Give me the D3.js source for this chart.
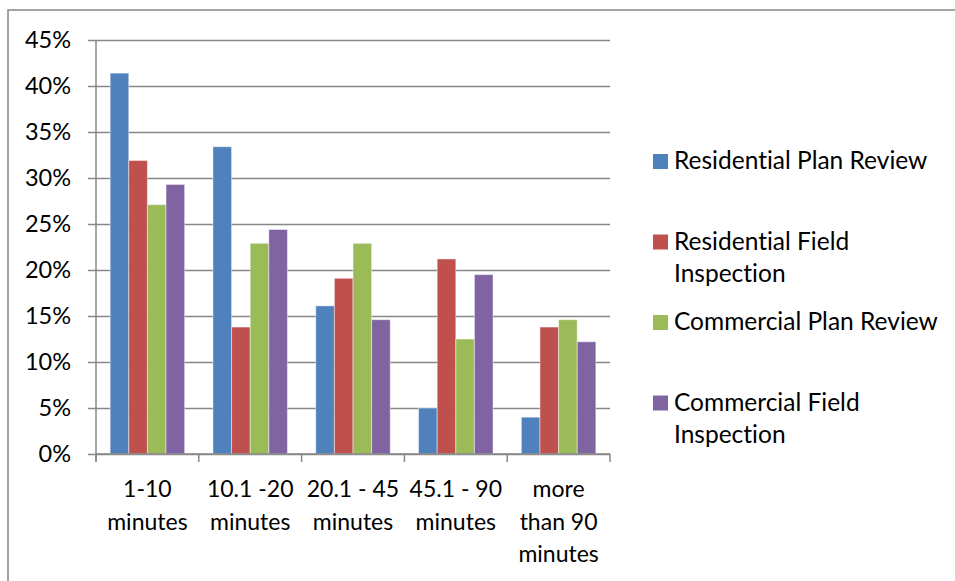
<!DOCTYPE html>
<html>
<head>
<meta charset="utf-8">
<script src="https://cdn.jsdelivr.net/npm/d3@7"></script>
<style>
  body { margin: 0; background: #fff; }
  text { font-family: Lato, "Open Sans", sans-serif; fill: #000; font-variant-ligatures: none; }
</style>
</head>
<body>
<svg id="chart" width="955" height="581"></svg>
<script>
// data
const categories = ["1-10 minutes", "10.1 -20 minutes", "20.1 - 45 minutes", "45.1 - 90 minutes", "more than 90 minutes"]
const catLines = [["1-10", "minutes"], ["10.1 -20", "minutes"], ["20.1 - 45", "minutes"], ["45.1 - 90", "minutes"], ["more", "than 90", "minutes"]]
const seriesNames = ["Residential Plan Review", "Residential Field Inspection", "Commercial Plan Review", "Commercial Field Inspection"]
const legendLines = [["Residential Plan Review"], ["Residential Field", "Inspection"], ["Commercial Plan Review"], ["Commercial Field", "Inspection"]]
const resPlan = [0.414, 0.334, 0.161, 0.050, 0.040]
const resField = [0.319, 0.138, 0.191, 0.212, 0.138]
const comPlan = [0.271, 0.229, 0.229, 0.125, 0.146]
const comField = [0.293, 0.244, 0.146, 0.195, 0.122]
const yTicks = [0, 0.05, 0.1, 0.15, 0.2, 0.25, 0.3, 0.35, 0.4, 0.45]
const colors = ["#4F81BD", "#C0504D", "#9BBB59", "#8064A2"]

const allSeries = [resPlan, resField, comPlan, comField]

const svg = d3.select("#chart")
const margin = {top: 40, left: 96, right: 610, bottom: 454}
const grey = "#878787"

// outer chart frame
svg.append("rect")
  .attr("x", 8).attr("y", 10)
  .attr("width", 1000).attr("height", 1000)
  .attr("fill", "none").attr("stroke", grey).attr("stroke-width", 1.5)

const x0 = d3.scaleBand().domain(categories).range([margin.left, margin.right])
const x1 = d3.scaleBand().domain(seriesNames).range([0, x0.bandwidth()]).paddingInner(0).paddingOuter(0.76)
const y = d3.scaleLinear().domain([0, 0.45]).range([margin.bottom, margin.top])

// gridlines + y ticks
const yAxis = d3.axisLeft(y).tickValues(yTicks).tickFormat(d3.format(".0%"))
  .tickSize(-(margin.right - margin.left + 8)).tickSizeOuter(0).tickPadding(17)
svg.append("g")
  .attr("transform", `translate(${margin.left - 8},0)`)
  .call(yAxis)
  .call(g => g.select(".domain").remove())
  .call(g => g.selectAll(".tick line").attr("stroke", grey).attr("stroke-width", 1.5))
  .call(g => g.selectAll(".tick text").attr("font-size", 23.5).attr("font-family", "Lato, sans-serif").attr("fill", "#000"))

// y axis line
svg.append("line")
  .attr("x1", margin.left).attr("x2", margin.left)
  .attr("y1", y(0.45)).attr("y2", margin.bottom + 8)
  .attr("stroke", grey).attr("stroke-width", 1.5)

// bars
const groups = svg.append("g").selectAll("g")
  .data(categories)
  .join("g")
  .attr("transform", d => `translate(${x0(d)},0)`)

groups.selectAll("rect")
  .data((c, i) => seriesNames.map((s, j) => ({s: s, v: allSeries[j][i], j: j})))
  .join("rect")
  .attr("x", d => x1(d.s))
  .attr("y", d => y(d.v))
  .attr("width", x1.bandwidth())
  .attr("height", d => y(0) - y(d.v))
  .attr("fill", d => colors[d.j])
  .attr("stroke", "rgba(255,255,255,0.45)")
  .attr("stroke-width", 1)

// x axis with ticks at category boundaries
const bounds = categories.map(c => x0(c)).concat([margin.right])
svg.append("line")
  .attr("x1", margin.left).attr("x2", margin.right)
  .attr("y1", y(0)).attr("y2", y(0))
  .attr("stroke", grey).attr("stroke-width", 1.5)
svg.append("g").selectAll("line")
  .data(bounds)
  .join("line")
  .attr("x1", d => d).attr("x2", d => d)
  .attr("y1", y(0)).attr("y2", y(0) + 8)
  .attr("stroke", grey).attr("stroke-width", 1.5)

// category labels
svg.append("g").selectAll("text")
  .data(categories)
  .join("text")
  .attr("text-anchor", "middle")
  .attr("font-size", 23)
  .each(function(c, i) {
    d3.select(this).selectAll("tspan")
      .data(catLines[i])
      .join("tspan")
      .attr("x", x0(c) + x0.bandwidth() / 2)
      .attr("y", (d, k) => 497 + k * 32.5)
      .text(d => d)
  })

// legend
const legend = svg.append("g").selectAll("g")
  .data(seriesNames)
  .join("g")
  .attr("transform", (d, i) => `translate(653,${169 + i * 80.5})`)

legend.append("rect")
  .attr("x", 0).attr("y", -15)
  .attr("width", 15).attr("height", 15)
  .attr("fill", (d, i) => colors[i])

legend.append("text")
  .attr("font-size", 24.5)
  .each(function(d, i) {
    d3.select(this).selectAll("tspan")
      .data(legendLines[i])
      .join("tspan")
      .attr("x", 21)
      .attr("y", (t, k) => k * 32)
      .text(t => t)
  })
</script>
</body>
</html>
